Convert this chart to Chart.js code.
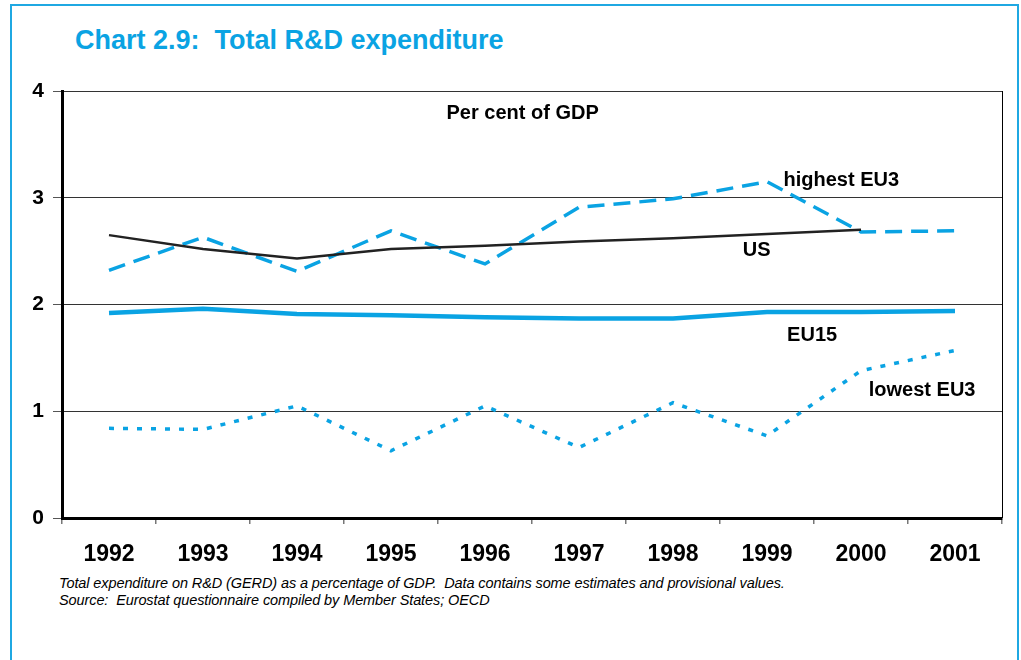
<!DOCTYPE html>
<html lang="en">
<head>
<meta charset="utf-8">
<script src="https://cdn.jsdelivr.net/npm/chart.js@4.4.1/dist/chart.umd.min.js"></script>
<style>
  body { margin: 0; background: #fff; }
  #wrap { position: relative; width: 1021px; height: 660px; overflow: hidden; }
  #frame { position: absolute; left: 10px; top: 4px; width: 1005px; height: 700px;
           border: 2px solid #1fa8e2; border-bottom: none; }
  #title { position: absolute; left: 75px; top: 27px; font: bold 27px "Liberation Sans", Arial, sans-serif;
           line-height: 27px; color: #0aa3e3; white-space: pre; }
  #note { position: absolute; left: 59px; top: 575px; font: italic 14.5px "Liberation Sans", Arial, sans-serif;
          line-height: 17px; color: #000; white-space: pre; letter-spacing: -0.1px; }
  canvas { position: absolute; left: 0; top: 0; }
</style>
</head>
<body>
<div id="wrap">
  <div id="frame"></div>
  <div id="title">Chart 2.9:  Total R&amp;D expenditure</div>
  <div id="note">Total expenditure on R&amp;D (GERD) as a percentage of GDP.  Data contains some estimates and provisional values.
Source:  Eurostat questionnaire compiled by Member States; OECD</div>
  <canvas id="myChart" width="1021" height="660"></canvas>
</div>
<script>
const years = ['1992', '1993', '1994', '1995', '1996', '1997', '1998', '1999', '2000', '2001'];
const us = [2.65, 2.52, 2.43, 2.52, 2.55, 2.59, 2.62, 2.66, 2.70, null];
const highestEU3 = [2.32, 2.63, 2.31, 2.69, 2.38, 2.91, 2.99, 3.15, 2.68, 2.69];
const eu15 = [1.92, 1.96, 1.91, 1.90, 1.88, 1.87, 1.87, 1.93, 1.93, 1.94];
const lowestEU3 = [0.84, 0.83, 1.05, 0.63, 1.05, 0.66, 1.08, 0.77, 1.38, 1.57];

const blue = '#0aa3e3';

// text drawn inside the plot, anchored in data space (category index, value)
const inlineLabels = [
    { text: 'Per cent of GDP', x: 4.40, y: 3.79 },
    { text: 'highest EU3', x: 7.79, y: 3.16 },
    { text: 'US', x: 6.89, y: 2.51 },
    { text: 'EU15', x: 7.48, y: 1.71 },
    { text: 'lowest EU3', x: 8.65, y: 1.19 }
];

const labelPlugin = {
    id: 'labelPlugin',
    afterDatasetsDraw(chart) {
        const ctx = chart.ctx;
        const xs = chart.scales.x, ys = chart.scales.y, a = chart.chartArea;
        ctx.save();
        // right edge of the plot frame
        ctx.strokeStyle = '#000';
        ctx.lineWidth = 1;
        ctx.beginPath();
        ctx.moveTo(Math.round(a.right) + 0.5, a.top);
        ctx.lineTo(Math.round(a.right) + 0.5, a.bottom);
        ctx.stroke();
        ctx.fillStyle = '#000';
        ctx.font = 'bold 20px "Liberation Sans", Arial, sans-serif';
        ctx.textAlign = 'center';
        ctx.textBaseline = 'middle';
        inlineLabels.forEach(l => {
            ctx.fillText(l.text, xs.getPixelForValue(l.x), ys.getPixelForValue(l.y));
        });
        ctx.restore();
    }
};

const ctx = document.getElementById('myChart').getContext('2d');

const myChart = new Chart(ctx, {
    type: 'line',
    data: {
        labels: years,
        datasets: [
            {
                label: 'US',
                data: us,
                borderColor: '#222',
                borderWidth: 2.5,
                pointRadius: 0,
                tension: 0
            },
            {
                label: 'highest EU3',
                data: highestEU3,
                borderColor: blue,
                borderWidth: 3.5,
                borderDash: [17, 9],
                pointRadius: 0,
                tension: 0
            },
            {
                label: 'EU15',
                data: eu15,
                borderColor: blue,
                borderWidth: 4.5,
                pointRadius: 0,
                tension: 0
            },
            {
                label: 'lowest EU3',
                data: lowestEU3,
                borderColor: blue,
                borderWidth: 3.5,
                borderDash: [5, 9],
                pointRadius: 0,
                tension: 0
            }
        ]
    },
    options: {
        responsive: false,
        animation: false,
        layout: { padding: { top: 91, right: 19, left: 0, bottom: 0 } },
        plugins: {
            legend: { display: false },
            tooltip: { enabled: false }
        },
        scales: {
            x: {
                offset: true,
                afterFit: s => { s.height = 142; },
                grid: { offset: true, drawOnChartArea: false, tickLength: 6, color: '#777', lineWidth: 1.5 },
                border: { color: '#000', width: 3 },
                ticks: {
                    color: '#000',
                    padding: 17,
                    maxRotation: 0,
                    font: { family: '"Liberation Sans", Arial, sans-serif', size: 23, weight: 'bold' }
                }
            },
            y: {
                min: 0,
                max: 4,
                afterFit: s => { s.width = 62; },
                grid: { color: '#333', lineWidth: 1, tickLength: 9, tickColor: '#555' },
                border: { color: '#000', width: 3 },
                ticks: {
                    stepSize: 1,
                    color: '#000',
                    padding: 9,
                    font: { family: '"Liberation Sans", Arial, sans-serif', size: 21, weight: 'bold' }
                }
            }
        }
    },
    plugins: [labelPlugin]
});
</script>
</body>
</html>
